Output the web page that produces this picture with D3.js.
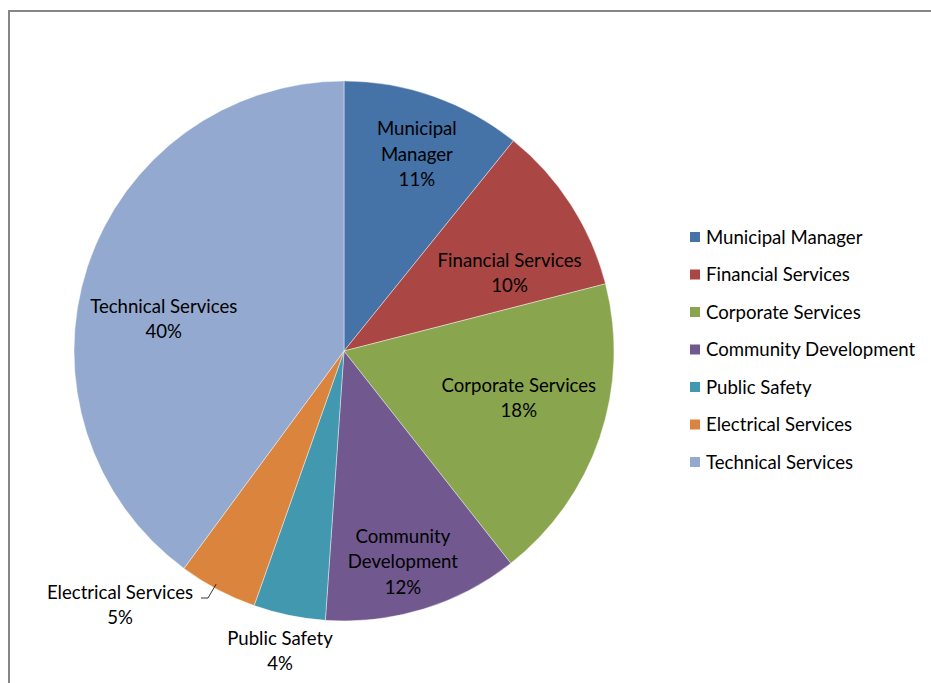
<!DOCTYPE html>
<html><head><meta charset="utf-8">
<script src="https://cdn.jsdelivr.net/npm/d3@7"></script>
<style>
html,body{margin:0;padding:0;background:#fff;}
svg{display:block;}
text{font-family:"Lato","Open Sans",sans-serif;fill:#000;}
</style></head>
<body>
<svg id="chart" width="931" height="683"></svg>
<script>
const categories = ["Municipal Manager","Financial Services","Corporate Services","Community Development","Public Safety","Electrical Services","Technical Services"];
const values = [10.8, 10.2, 18.4, 11.7, 4.3, 4.7, 39.9];
const colors = ["#4572A7","#AA4643","#89A54E","#71588F","#4198AF","#DB843D","#93A9CF"];
const sliceLabelLines = [["Municipal","Manager"],["Financial Services"],["Corporate Services"],["Community","Development"],["Public Safety"],["Electrical Services"],["Technical Services"]];

const svg = d3.select("#chart");
const W = 931, H = 683;

// frame
svg.append("path").attr("d", `M9,${H} L9,11 L${W},11`).attr("fill","none").attr("stroke","#868686").attr("stroke-width",2);

const cx = 344, cy = 351, R = 270;
const total = d3.sum(values);
const pie = d3.pie().sort(null).value(d => d)(values);
const arc = d3.arc().innerRadius(0).outerRadius(R);
const g = svg.append("g").attr("transform", `translate(${cx},${cy})`);
g.selectAll("path.slice").data(pie).join("path").attr("class","slice")
  .attr("d", arc).attr("fill", (d,i) => colors[i])
  .attr("stroke","#fff").attr("stroke-opacity",0.6).attr("stroke-width",0.7);

// label placement (polar: radius, angle in degrees) - layout config
const labelLayout = [
  {r:210, a:20.3}, {r:183, a:64.8}, {r:181, a:105}, {r:219, a:164.4},
  {r:null, x:280, y:651}, {r:null, x:120, y:605}, {r:183, a:280}
];
const fs = 18.6, lh = 25.5;
pie.forEach((d,i) => {
  const L = labelLayout[i];
  let x, y;
  if (L.r) {
    const ang = L.a * Math.PI/180;
    x = cx + L.r*Math.sin(ang); y = cy - L.r*Math.cos(ang);
  } else { x = L.x; y = L.y; }
  const lines = sliceLabelLines[i].concat([Math.round(d.value/total*100) + "%"]);
  const t = svg.append("text").attr("text-anchor","middle").attr("font-size",fs);
  const y0 = y - (lines.length-1)*lh/2;
  lines.forEach((s,k) => t.append("tspan").attr("x",x).attr("y",y0 + k*lh).attr("dy","0.35em").text(s));
});

// leader line for Electrical Services
const esArc = pie[5];
const la = esArc.startAngle + (esArc.endAngle-esArc.startAngle)*0.55;
const px = cx + (R-4)*Math.sin(la);
const py = cy - (R-4)*Math.cos(la);
svg.append("path").attr("d", `M201,598 L208,598 L${px.toFixed(1)},${py.toFixed(1)}`)
  .attr("fill","none").attr("stroke","#000").attr("stroke-width",0.8);

// legend
const lg = svg.append("g");
categories.forEach((c,i) => {
  const y = 237 + i*37.5;
  lg.append("rect").attr("x",690).attr("y",y-5).attr("width",10).attr("height",10).attr("fill",colors[i]);
  lg.append("text").attr("x",706).attr("y",y).attr("dy","0.35em").attr("font-size",fs).text(c);
});
</script>
</body></html>
